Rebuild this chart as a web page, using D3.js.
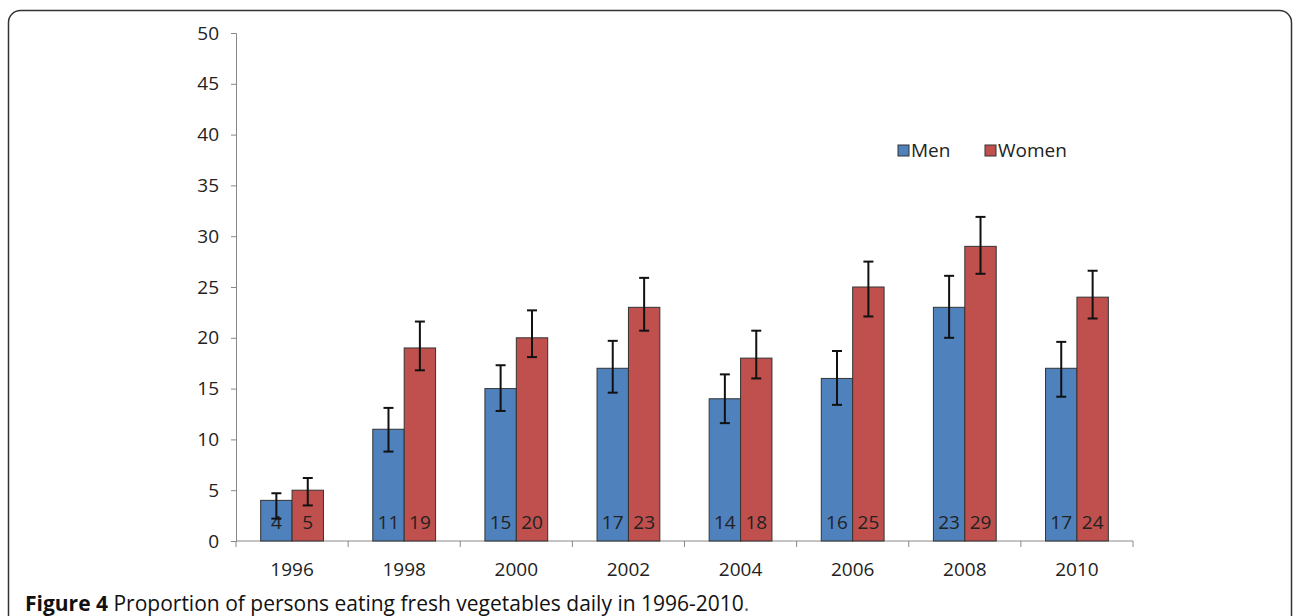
<!DOCTYPE html>
<html>
<head>
<meta charset="utf-8">
<script src="https://cdn.jsdelivr.net/npm/d3@7"></script>
<style>
  body { margin: 0; background: #fff; }
  svg { display: block; font-family: "Open Sans", sans-serif; }
</style>
</head>
<body>
<svg id="chart" width="1293" height="616"></svg>
<script>
// data
const years = ["1996", "1998", "2000", "2002", "2004", "2006", "2008", "2010"]
const series = ["Men", "Women"]
const colors = ["#4F81BD", "#C0504D"]
const men = [4, 11, 15, 17, 14, 16, 23, 17]
const women = [5, 19, 20, 23, 18, 25, 29, 24]
const menLow = [2.2, 8.8, 12.8, 14.6, 11.6, 13.4, 20.0, 14.2]
const menHigh = [4.7, 13.1, 17.3, 19.7, 16.4, 18.7, 26.1, 19.6]
const womenLow = [3.5, 16.8, 18.1, 20.7, 16.0, 22.1, 26.3, 21.9]
const womenHigh = [6.2, 21.6, 22.7, 25.9, 20.7, 27.5, 31.9, 26.6]
const yTicks = [0, 5, 10, 15, 20, 25, 30, 35, 40, 45, 50]

const svg = d3.select("#chart")

// frame round the figure
svg.append("rect")
  .attr("x", 8.5).attr("y", 10.5)
  .attr("width", 1283).attr("height", 640)
  .attr("rx", 12).attr("ry", 12)
  .attr("fill", "none")
  .attr("stroke", "#333")
  .attr("stroke-width", 1.5)

const plotLeft = 236, plotRight = 1133, plotBottom = 541, plotTop = 33

const x0 = d3.scaleBand().domain(years).range([plotLeft, plotRight])
const bw = x0.bandwidth()
const x1 = d3.scaleBand().domain(series).range([bw * 0.22, bw * 0.78])
const y = d3.scaleLinear().domain([0, 50]).range([plotBottom, plotTop])

// y axis
const yAxis = svg.append("g")
  .attr("transform", `translate(${plotLeft},0)`)
  .call(d3.axisLeft(y).tickValues(yTicks).tickSize(5).tickPadding(12))
yAxis.select(".domain").attr("stroke", "#888")
yAxis.selectAll(".tick line").attr("stroke", "#888")
yAxis.selectAll(".tick text").attr("font-size", 19).attr("fill", "#222")
  .attr("font-family", "Open Sans")

// x axis: ticks at band edges
const xAxis = svg.append("g")
  .attr("transform", `translate(0,${plotBottom})`)
xAxis.append("line")
  .attr("x1", plotLeft).attr("x2", plotRight)
  .attr("stroke", "#888")
const edges = years.map(d => x0(d)).concat([plotRight])
xAxis.selectAll("line.tk")
  .data(edges)
  .enter().append("line")
  .attr("class", "tk")
  .attr("x1", d => d).attr("x2", d => d)
  .attr("y1", 0).attr("y2", 6)
  .attr("stroke", "#888")
xAxis.selectAll("text")
  .data(years)
  .enter().append("text")
  .attr("x", d => x0(d) + bw / 2)
  .attr("y", 35)
  .attr("text-anchor", "middle")
  .attr("font-size", 19)
  .attr("fill", "#222")
  .text(d => d)

// build rows
const rows = []
years.forEach((yr, i) => {
  rows.push({year: yr, s: 0, v: men[i], lo: menLow[i], hi: menHigh[i]})
  rows.push({year: yr, s: 1, v: women[i], lo: womenLow[i], hi: womenHigh[i]})
})

const g = svg.append("g")
g.selectAll("rect.bar")
  .data(rows)
  .enter().append("rect")
  .attr("class", "bar")
  .attr("x", d => x0(d.year) + x1(series[d.s]))
  .attr("y", d => y(d.v))
  .attr("width", x1.bandwidth())
  .attr("height", d => plotBottom - y(d.v))
  .attr("fill", d => colors[d.s])
  .attr("stroke", "#333")
  .attr("stroke-width", 1)

// value labels
g.selectAll("text.val")
  .data(rows)
  .enter().append("text")
  .attr("class", "val")
  .attr("x", d => x0(d.year) + x1(series[d.s]) + x1.bandwidth() / 2)
  .attr("y", plotBottom - 12)
  .attr("text-anchor", "middle")
  .attr("font-size", 19)
  .attr("fill", "#222")
  .text(d => d.v)

// error bars
const cx = d => x0(d.year) + x1(series[d.s]) + x1.bandwidth() / 2
const eb = g.selectAll("g.err")
  .data(rows)
  .enter().append("g")
  .attr("class", "err")
  .attr("stroke", "#111")
  .attr("stroke-width", 2)
eb.append("line")
  .attr("x1", cx).attr("x2", cx)
  .attr("y1", d => y(d.hi)).attr("y2", d => y(d.lo))
eb.append("line")
  .attr("x1", d => cx(d) - 5).attr("x2", d => cx(d) + 5)
  .attr("y1", d => y(d.hi)).attr("y2", d => y(d.hi))
eb.append("line")
  .attr("x1", d => cx(d) - 5).attr("x2", d => cx(d) + 5)
  .attr("y1", d => y(d.lo)).attr("y2", d => y(d.lo))

// legend
const legend = svg.append("g").attr("transform", "translate(898,145)")
const lg = legend.selectAll("g")
  .data(series)
  .enter().append("g")
  .attr("transform", (d, i) => `translate(${i * 87},0)`)
lg.append("rect")
  .attr("width", 11).attr("height", 11)
  .attr("fill", (d, i) => colors[i])
  .attr("stroke", "#333")
lg.append("text")
  .attr("x", 13).attr("y", 12)
  .attr("font-size", 19)
  .attr("fill", "#222")
  .text(d => d)

// caption
const cap = svg.append("text")
  .attr("x", 25).attr("y", 611)
  .attr("font-size", 21)
  .attr("fill", "#111")
cap.append("tspan").attr("font-weight", "bold").text("Figure 4")
cap.append("tspan").text(" Proportion of persons eating fresh vegetables daily in 1996-2010")
cap.append("tspan").attr("fill", "#666").text(".")
</script>
</body>
</html>
